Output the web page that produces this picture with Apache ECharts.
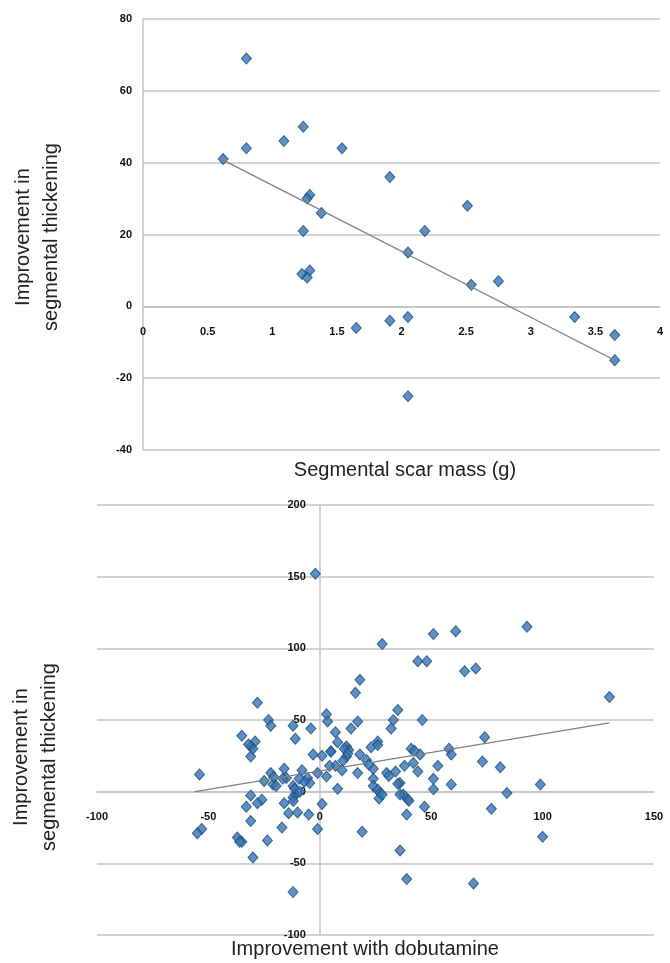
<!DOCTYPE html>
<html>
<head>
<meta charset="utf-8">
<style>
    html, body {margin:0;padding:0;background:#fff;}
    #chart {width:670px;height:963px;}
</style>
</head>
<body>
<div id="chart"></div>
<script src="https://cdn.jsdelivr.net/npm/echarts@6/dist/echarts.min.js"></script>
<script>
// top panel: segmental scar mass (g) vs improvement in thickening
var scarMass = [0.8, 0.8, 0.62, 1.09, 1.24, 1.54, 1.91, 1.29, 1.27, 1.38, 1.24, 2.51, 2.18, 2.05, 2.54, 2.75,
    1.23, 1.29, 1.27, 1.65, 1.91, 2.05, 2.05, 3.34, 3.65, 3.65];
var scarThick = [69, 44, 41, 46, 50, 44, 36, 31, 30, 26, 21, 28, 21, 15, 6, 7,
    9, 10, 8, -6, -4, -3, -25, -3, -8, -15];
var scarTrendX = [0.62, 3.65];
var scarTrendY = [40.7, -15];

// bottom panel: improvement with dobutamine vs improvement in thickening
var dobX = [-2, 93, 61, 51, 28, 44, 48, 65, 70, 18, 16, 130, -28, 35, 3, -23, 46, 33, 17, 3.5,
    -12, -22, -4, 14, 32, 7, -35, -11, -29, 8, 74, 26, -31, 12, 23, 41, 58, 13, -31, -3,
    1, 5, 18, 45, 59, 12, 21, 73, 42, 7, 38, 53, 81, -16, -8, -22, 10, 17, 24, 30,
    34, 44, -54, -1, 3, -25, -15, -5.5, 24, 51, 36, 99, 59, -21, -4.5, -12, 24, 8, 51, 26,
    27, 84, 37.5, -11, -31, -12, 39.5, 26.6, -26, 40, -28, -16, -33, 1, 47, 77, -14, -10, -5, 39,
    -31, -53, -55, -17, -1, 19, -37, -35, -23.5, 100, 36, -30, 39, 69, -12,
    -30, -32, -20.7, -19.6, -16.6, -7, -9.3, -11.3, -9, 4.9, 4.4, 10.4, 11, 12.6, 22, 26, 28, 31, 35, 42.5, 36, -11.9, -36];
var dobThick = [152, 115, 112, 110, 103, 91, 91, 84, 86, 78, 69, 66, 62, 57, 54, 50, 50, 50, 49, 49,
    46, 46, 44, 44, 44, 41.5, 39, 37, 35, 34.5, 38, 35, 31.5, 31.5, 31, 30, 30, 29, 24.5, 26,
    25, 28, 26, 26, 26, 24.5, 22, 21, 20, 18, 18, 18, 17, 16, 15, 13, 15, 13, 16, 13,
    14, 14, 12, 13, 10.5, 7.5, 9.6, 9.6, 9, 9, 6, 5, 5, 5, 6, 4, 4, 2, 1.6, 1.4,
    -1, -1, -2, -2, -2.6, -4, -5.4, -4.7, -5.6, -6.3, -8, -8, -10.5, -8.6, -10.5, -12, -15, -14.5, -16, -16,
    -20.5, -26, -29, -25, -26, -28, -32, -35, -34, -31.5, -41, -46, -61, -64, -70,
    30, 33, 10.3, 4, 9, 7, 9, 2, 0, 28, 18, 21.5, 30, 26.6, 18.7, 32.5, -2, 11, 5.6, 28.5, -2, -6.5, -35];
var dobTrendX = [-56, 130];
var dobTrendY = [0, 48];

var topXTicks = {min: 0, max: 4, step: 0.5};
var topYTicks = {min: -40, max: 80, step: 20};
var botXTicks = {min: -100, max: 150, step: 50};
var botYTicks = {min: -100, max: 200, step: 50};

function zip(a, b) {
    var out = [];
    for (var i = 0; i < a.length; i++) out.push([a[i], b[i]]);
    return out;
}

var grids = [
    {left: 143, right: 10, top: 19, height: 431, width: 517},
    {left: 97, right: 16, top: 505, height: 430, width: 557}
];

// how far the zero of a range sits from its low end, in px
function zeroShift(t, len) {
    return len * (0 - t.min) / (t.max - t.min);
}

var gridColor = '#c4c4c4';
var labelStyle = {color: '#111', fontWeight: 'bold', fontSize: 11, fontFamily: 'Liberation Sans'};
var markerStyle = {color: '#3474b6', borderColor: '#1d4a75', borderWidth: 1};

function xAx(gi, t, yt) {
    return {
        type: 'value', gridIndex: gi, min: t.min, max: t.max, interval: t.step,
        position: 'bottom',
        offset: -zeroShift(yt, grids[gi].height),
        axisLine: {show: true, onZero: false, lineStyle: {color: gridColor, width: 1.5}},
        axisTick: {show: false},
        splitLine: {show: false},
        axisLabel: Object.assign({margin: 20}, labelStyle)
    };
}
function yAx(gi, t, xt, margin) {
    return {
        type: 'value', gridIndex: gi, min: t.min, max: t.max, interval: t.step,
        position: 'left',
        offset: -zeroShift(xt, grids[gi].width),
        axisLine: {show: true, onZero: false, lineStyle: {color: gridColor, width: 1.5}},
        axisTick: {show: false},
        splitLine: {show: true, lineStyle: {color: gridColor, width: 1.5}},
        axisLabel: Object.assign({margin: margin}, labelStyle)
    };
}

var titleFont = '20px "Liberation Sans", Arial, sans-serif';

var option = {
    backgroundColor: '#fff',
    animation: false,
    grid: grids.map(function (g) { return {left: g.left, right: g.right, top: g.top, height: g.height}; }),
    xAxis: [xAx(0, topXTicks, topYTicks), xAx(1, botXTicks, botYTicks)],
    yAxis: [yAx(0, topYTicks, topXTicks, 11), yAx(1, botYTicks, botXTicks, 14)],
    series: [
        {
            type: 'scatter', xAxisIndex: 0, yAxisIndex: 0,
            symbol: 'diamond', symbolSize: [10, 11],
            itemStyle: markerStyle,
            data: zip(scarMass, scarThick)
        },
        {
            type: 'line', xAxisIndex: 0, yAxisIndex: 0, z: 3,
            showSymbol: false, silent: true,
            lineStyle: {color: '#7f7f7f', width: 1.3},
            data: zip(scarTrendX, scarTrendY)
        },
        {
            type: 'scatter', xAxisIndex: 1, yAxisIndex: 1,
            symbol: 'diamond', symbolSize: [10, 11],
            itemStyle: markerStyle,
            data: zip(dobX, dobThick)
        },
        {
            type: 'line', xAxisIndex: 1, yAxisIndex: 1, z: 3,
            showSymbol: false, silent: true,
            lineStyle: {color: '#7f7f7f', width: 1.3},
            data: zip(dobTrendX, dobTrendY)
        }
    ],
    graphic: [
        {type: 'text', x: 37, y: 237, rotation: Math.PI / 2,
            style: {text: 'Improvement in\nsegmental thickening', font: titleFont, lineHeight: 28,
                fill: '#222', textAlign: 'center', textVerticalAlign: 'middle'}},
        {type: 'text', x: 405, y: 470,
            style: {text: 'Segmental scar mass (g)', font: titleFont, fill: '#222',
                textAlign: 'center', textVerticalAlign: 'middle'}},
        {type: 'text', x: 35, y: 757, rotation: Math.PI / 2,
            style: {text: 'Improvement in\nsegmental thickening', font: titleFont, lineHeight: 28,
                fill: '#222', textAlign: 'center', textVerticalAlign: 'middle'}},
        {type: 'text', x: 365, y: 949,
            style: {text: 'Improvement with dobutamine', font: titleFont, fill: '#222',
                textAlign: 'center', textVerticalAlign: 'middle'}}
    ]
};

echarts.init(document.getElementById('chart')).setOption(option);
</script>
</body>
</html>
